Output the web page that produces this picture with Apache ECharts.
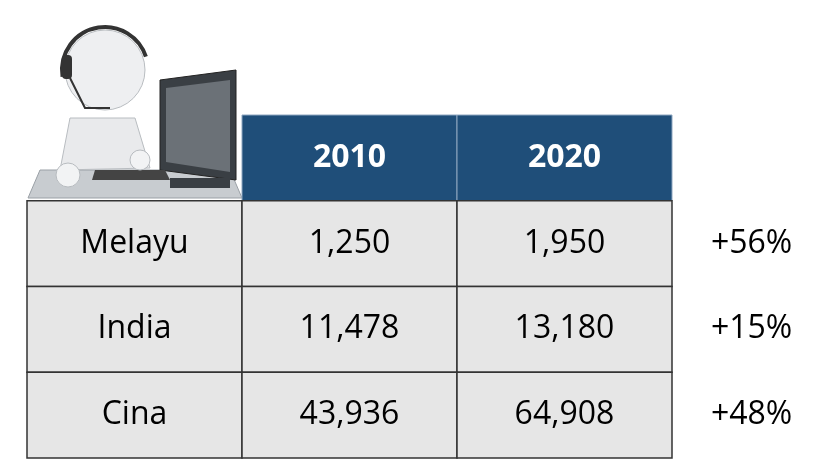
<!DOCTYPE html>
<html><head><meta charset="utf-8">
<script src="https://cdn.jsdelivr.net/npm/echarts@6/dist/echarts.min.js"></script>
<style>html,body{margin:0;background:#fff}#c{width:830px;height:468px}</style>
</head><body><div id="c"></div>
<script>
const years = ["2010", "2020"];
const groups = ["Melayu", "India", "Cina"];
const values2010 = ["1,250", "11,478", "43,936"];
const values2020 = ["1,950", "13,180", "64,908"];
const growth = ["+56%", "+15%", "+48%"];

// cells: [col, row, text, kind]
const cells = [];
years.forEach((y, i) => cells.push([i + 1, 0, y, "head"]));
groups.forEach((g, r) => {
    cells.push([0, r + 1, g, "body"]);
    cells.push([1, r + 1, values2010[r], "body"]);
    cells.push([2, r + 1, values2020[r], "body"]);
    cells.push([3, r + 1, growth[r], "pct"]);
});

const chart = echarts.init(document.getElementById("c"));
chart.setOption({
    animation: false,
    grid: {left: 27, top: 115, width: 645, bottom: 10},
    xAxis: {type: "value", min: 0, max: 3, show: false},
    yAxis: {type: "value", min: 0, max: 4, inverse: true, show: false},
    series: [{
        type: "custom",
        data: cells,
        clip: false,
        renderItem: (params, api) => {
            const col = api.value(0), row = api.value(1);
            const kind = cells[params.dataIndex][3];
            const text = cells[params.dataIndex][2];
            const p0 = api.coord([col, row]);
            const p1 = api.coord([col + 1, row + 1]);
            if (kind === "pct") {
                const c = api.coord([col + 0.37, row + 0.5]);
                return {type: "text", style: {x: c[0], y: c[1], text: text, fill: "#000",
                    font: "32px 'Open Sans', sans-serif", align: "center", verticalAlign: "middle"}};
            }
            const head = kind === "head";
            return {type: "group", children: [
                {type: "rect", shape: {x: p0[0], y: p0[1], width: p1[0] - p0[0], height: p1[1] - p0[1]},
                 style: {fill: head ? "#1f4e79" : "#e6e6e6", stroke: head ? "#8ea6c0" : "#333", lineWidth: head ? 1 : 1.5}},
                {type: "text", style: {x: (p0[0] + p1[0]) / 2, y: (p0[1] + p1[1]) / 2, text: text,
                    fill: head ? "#fff" : "#000", font: (head ? "bold " : "") + "32px 'Open Sans', sans-serif",
                    align: "center", verticalAlign: "middle"}}
            ]};
        }
    }],
    graphic: [
        // desk
        {type: "polygon", shape: {points: [[40, 170], [230, 170], [242, 198], [28, 198]]}, style: {fill: "#c8ccd0", stroke: "#9aa0a6"}},
        // monitor
        {type: "polygon", shape: {points: [[160, 80], [236, 70], [236, 180], [160, 170]]}, style: {fill: "#3a3f44", stroke: "#222"}},
        {type: "polygon", shape: {points: [[166, 88], [230, 80], [230, 172], [166, 162]]}, style: {fill: "#6b7177"}},
        {type: "rect", shape: {x: 170, y: 178, width: 60, height: 10}, style: {fill: "#3a3f44"}},
        // keyboard
        {type: "polygon", shape: {points: [[95, 170], [165, 170], [170, 180], [92, 180]]}, style: {fill: "#444"}},
        // body
        {type: "polygon", shape: {points: [[70, 118], [135, 118], [150, 168], [60, 170]]}, style: {fill: "#e9eaec", stroke: "#b8bcc0"}},
        {type: "circle", shape: {cx: 140, cy: 160, r: 10}, style: {fill: "#f2f3f4", stroke: "#b8bcc0"}},
        {type: "circle", shape: {cx: 68, cy: 175, r: 12}, style: {fill: "#f2f3f4", stroke: "#b8bcc0"}},
        // head
        {type: "circle", shape: {cx: 105, cy: 70, r: 40}, style: {fill: "#eeeff1", stroke: "#b8bcc0"}},
        // headset
        {type: "arc", shape: {cx: 105, cy: 70, r: 43, startAngle: Math.PI * 0.95, endAngle: Math.PI * 1.9}, style: {stroke: "#333", lineWidth: 4, fill: null}},
        {type: "rect", shape: {x: 62, y: 55, width: 10, height: 24, r: 4}, style: {fill: "#333"}},
        {type: "polyline", shape: {points: [[70, 78], [85, 108], [110, 108]]}, style: {stroke: "#333", lineWidth: 2, fill: null}}
    ]
});
</script></body></html>
